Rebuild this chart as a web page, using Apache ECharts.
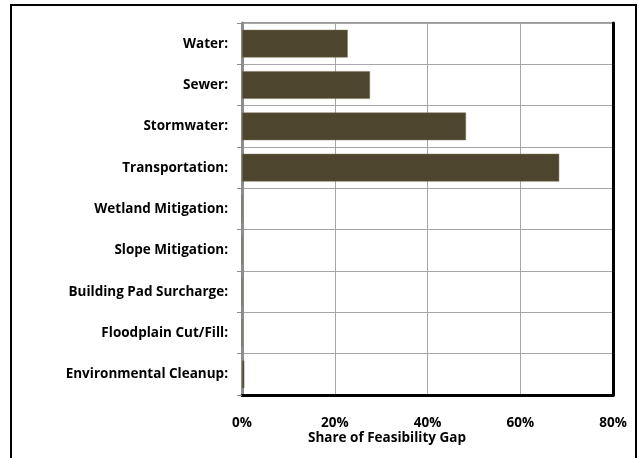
<!DOCTYPE html>
<html>
<head>
<meta charset="utf-8">
<script src="https://cdn.jsdelivr.net/npm/echarts@6/dist/echarts.min.js"></script>
<style>
  html, body { margin: 0; padding: 0; background: #fff; }
  #chart { width: 639px; height: 458px; }
</style>
</head>
<body>
<div id="chart"></div>
<script>
// categories, top to bottom
var categories = ['Water:', 'Sewer:', 'Stormwater:', 'Transportation:', 'Wetland Mitigation:',
  'Slope Mitigation:', 'Building Pad Surcharge:', 'Floodplain Cut/Fill:', 'Environmental Cleanup:'];
// share of feasibility gap, percent
var shares = [22.8, 27.6, 48.3, 68.4, 0, 0, 0, 0, 0.5];
var xTicks = [0, 20, 40, 60, 80];

var chart = echarts.init(document.getElementById('chart'));
var font = '"Open Sans", Lato, sans-serif';

var option = {
  animation: false,
  textStyle: { fontFamily: font },
  grid: {
    left: 242, top: 23, width: 371, height: 372,
    show: true, borderColor: '#333', borderWidth: 1
  },
  xAxis: {
    type: 'value',
    min: xTicks[0], max: xTicks[xTicks.length - 1], interval: 20,
    axisLine: { show: true, lineStyle: { color: '#000', width: 3 } },
    axisTick: { show: false },
    axisLabel: {
      margin: 21, color: '#000', fontWeight: 'bold', fontSize: 13.5, fontFamily: font,
      formatter: '{value}%'
    },
    splitLine: { show: true, lineStyle: { color: '#a6a6a6', width: 1 } }
  },
  yAxis: [{
    type: 'category',
    data: categories,
    inverse: true,
    axisLine: { show: true, lineStyle: { color: '#8c8c8c', width: 3 } },
    axisTick: { show: true, length: 5, lineStyle: { color: '#8c8c8c' } },
    axisLabel: { margin: 14, color: '#000', fontWeight: 'bold', fontSize: 13.5, fontFamily: font },
    splitLine: { show: true, lineStyle: { color: '#a6a6a6', width: 1 } }
  }, {
    type: 'category',
    data: categories,
    inverse: true,
    position: 'right',
    axisLine: { show: true, lineStyle: { color: '#000', width: 3 } },
    axisTick: { show: false },
    axisLabel: { show: false },
    splitLine: { show: false }
  }],
  graphic: [{
    type: 'rect',
    shape: { x: 11, y: 5, width: 625, height: 470 },
    style: { fill: 'none', stroke: '#000', lineWidth: 2 },
    silent: true
  }, {
    type: 'text',
    x: 387, y: 438,
    style: {
      text: 'Share of Feasibility Gap', fill: '#000', font: 'bold 13.5px ' + font,
      textAlign: 'center', textVerticalAlign: 'middle'
    }
  }],
  series: [{
    type: 'bar',
    data: shares,
    barCategoryGap: '33%',
    itemStyle: { color: '#4d452e', borderColor: '#7a7258', borderWidth: 0.5 }
  }]
};
chart.setOption(option);
</script>
</body>
</html>
